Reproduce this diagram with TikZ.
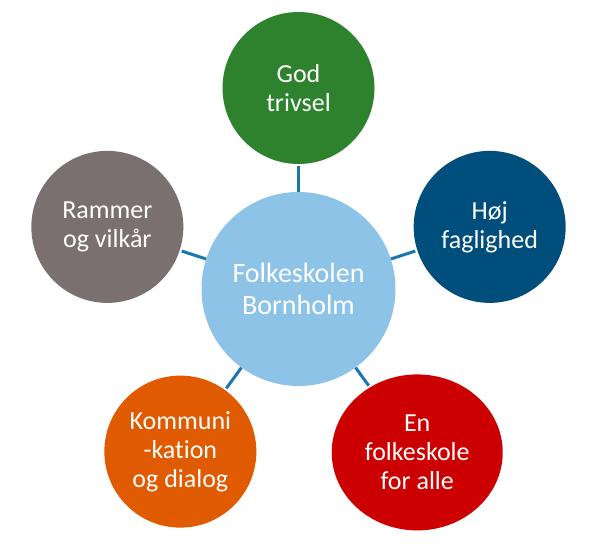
\documentclass[tikz,border=0pt]{standalone}
\usepackage{fontspec}
\setmainfont{Carlito}[Ligatures={NoCommon}]
\usepackage{tikz}
\usetikzlibrary{shapes.geometric,calc}

\definecolor{hubblue}{HTML}{8DC3E6}
\definecolor{trivgreen}{HTML}{2E822E}
\definecolor{fagblue}{HTML}{004E7C}
\definecolor{allered}{HTML}{CC0000}
\definecolor{komorange}{HTML}{E05A00}
\definecolor{ramgrey}{HTML}{7A7070}
\definecolor{linkblue}{HTML}{1A76B0}

\begin{document}
\begin{tikzpicture}[
    x=1pt, y=-1pt,
    hub/.style={circle, fill=hubblue, minimum size=194pt, inner sep=0pt, align=center, text=white,
        font=\fontsize{28}{32.5}\selectfont},
    sat/.style={circle, minimum size=152pt, inner sep=0pt, align=center, text=white,
        font=\fontsize{26}{29}\selectfont},
    link/.style={draw=linkblue, line width=3pt, shorten >=2pt}
]
\useasboundingbox (0,0) rectangle (603,548);
\node[hub] (hub) at (298.5,289) {Folkeskolen\\Bornholm};
\node[sat, fill=trivgreen] (trivsel) at ($(hub)+(90:201pt)$) {God\\trivsel};
\node[sat, fill=fagblue] (faglig) at ($(hub)+(18:201pt)$) {Høj\\faglighed};
\node[sat, ellipse, fill=allered, minimum width=171pt, minimum height=156pt] (alle) at ($(hub)+(-54:202pt)$) {En\\folkeskole\\for alle};
\node[sat, fill=komorange] (dialog) at ($(hub)+(-126:201pt)$) {Kommuni\\-kation\\og dialog};
\node[sat, fill=ramgrey] (rammer) at ($(hub)+(162:201pt)$) {Rammer\\og vilkår};
\draw[link] (hub) -- (trivsel);
\draw[link] (hub) -- (faglig);
\draw[link] (hub) -- (alle);
\draw[link] (hub) -- (dialog);
\draw[link] (hub) -- (rammer);
\end{tikzpicture}
\end{document}
